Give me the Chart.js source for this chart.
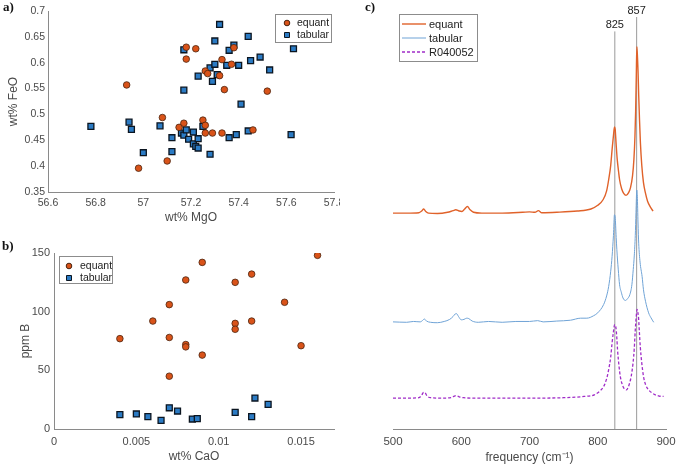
<!DOCTYPE html>
<html>
<head>
<meta charset="utf-8">
<script src="https://cdn.jsdelivr.net/npm/chart.js@4.4.1/dist/chart.umd.min.js"></script>
<style>
  html, body { margin: 0; padding: 0; background: #fff; }
  #wrap { position: relative; width: 676px; height: 465px; overflow: hidden; }
  canvas { position: absolute; }
</style>
</head>
<body>
<div id="wrap">
  <canvas id="chartA" width="340" height="232" style="left:0;top:0"></canvas>
  <canvas id="chartB" width="340" height="233" style="left:0;top:232px"></canvas>
  <canvas id="chartC" width="336" height="465" style="left:340px;top:0"></canvas>
</div>
<script>
// ---- panel a) FeO vs MgO ----
const mgoEquant = [56.93, 56.98, 57.08, 57.10, 57.15, 57.17, 57.18, 57.18, 57.22, 57.25, 57.26, 57.26,
  57.26, 57.27, 57.29, 57.32, 57.33, 57.33, 57.34, 57.37, 57.38, 57.46, 57.52];
const feoEquant = [0.557, 0.396, 0.494, 0.410, 0.475, 0.483, 0.630, 0.607, 0.627, 0.489, 0.479, 0.464,
  0.584, 0.579, 0.464, 0.575, 0.606, 0.464, 0.548, 0.597, 0.629, 0.470, 0.545];
const mgoTabular = [56.78, 56.94, 56.95, 57.00, 57.07, 57.12, 57.12, 57.16, 57.17, 57.17, 57.17, 57.18,
  57.19, 57.21, 57.21, 57.22, 57.23, 57.23, 57.23, 57.25, 57.28, 57.28, 57.29, 57.30, 57.30, 57.31,
  57.32, 57.35, 57.36, 57.36, 57.38, 57.39, 57.40, 57.41, 57.44, 57.44, 57.45, 57.49, 57.53, 57.62, 57.63];
const feoTabular = [0.477, 0.485, 0.471, 0.426, 0.478, 0.455, 0.428, 0.464, 0.460, 0.625, 0.547, 0.470,
  0.452, 0.466, 0.443, 0.438, 0.435, 0.453, 0.574, 0.477, 0.423, 0.590, 0.564, 0.597, 0.642, 0.577,
  0.674, 0.595, 0.455, 0.624, 0.634, 0.461, 0.595, 0.520, 0.468, 0.651, 0.604, 0.611, 0.586, 0.461, 0.627];
const aXTicks = [56.6, 56.8, 57, 57.2, 57.4, 57.6, 57.8];
const aXLabels = ['56.6', '56.8', '57', '57.2', '57.4', '57.6', '57.8'];
const aYTicks = [0.35, 0.4, 0.45, 0.5, 0.55, 0.6, 0.65, 0.7];
const aYLabels = ['0.35', '0.4', '0.45', '0.5', '0.55', '0.6', '0.65', '0.7'];

// ---- panel b) B vs CaO ----
const caoEquant = [0.004, 0.006, 0.007, 0.007, 0.007, 0.008, 0.008, 0.008, 0.009, 0.009, 0.011, 0.011,
  0.011, 0.012, 0.012, 0.014, 0.015, 0.016];
const bEquant = [77, 92, 106, 78, 45, 127, 72, 70, 142, 63, 125, 90, 85, 132, 92, 108, 71, 148];
const caoTabular = [0.004, 0.005, 0.0057, 0.0065, 0.007, 0.0075, 0.0084, 0.0087, 0.011, 0.012, 0.0122, 0.013];
const bTabular = [12.2, 12.8, 10.5, 7.4, 18.1, 15.3, 8.5, 8.8, 14.2, 10.5, 26.4, 21];
const bXTicks = [0, 0.005, 0.01, 0.015];
const bXLabels = ['0', '0.005', '0.01', '0.015'];
const bYTicks = [0, 50, 100, 150];
const bYLabels = ['0', '50', '100', '150'];

// ---- panel c) Raman spectra (intensity in arbitrary, offset units) ----
const equantFreq = [500, 520, 538, 542, 545, 548, 552, 565, 580, 588, 592, 597, 601, 605, 609, 613, 618,
  630, 660, 690, 700, 708, 713, 718, 740, 770, 790, 800, 808, 813, 816, 819, 821, 823, 824.5, 825.5,
  827, 828.5, 830.5, 832, 835, 838, 841.5, 845, 848, 851, 853, 854.5, 855.5, 856.5, 857.3, 858, 859,
  860, 861.2, 862.5, 864.5, 867, 870, 873, 877, 881];
const equantInt = [52.4, 52.4, 52.5, 52.9, 53.4, 52.8, 52.4, 52.3, 52.6, 53.0, 53.2, 52.9, 52.8, 53.4,
  54.0, 53.2, 52.6, 52.4, 52.4, 52.6, 52.7, 52.6, 53.0, 52.5, 52.6, 52.9, 53.4, 54.3, 55.7, 57.8, 60.5,
  64.0, 67.8, 71.2, 73.3, 72.8, 69.0, 65.5, 62.5, 60.5, 58.3, 57.2, 56.7, 57.3, 58.6, 61.5, 65.5, 71.0,
  77.0, 86.0, 92.8, 91.0, 87.0, 81.0, 75.0, 69.5, 64.0, 59.8, 57.2, 55.3, 53.9, 52.9];
const tabularFreq = [500, 520, 530, 540, 543, 546, 549, 555, 565, 575, 583, 588, 591, 593, 596, 600, 604,
  608, 611, 616, 625, 640, 660, 680, 700, 712, 720, 740, 760, 775, 784, 794, 800, 808.6, 813, 816, 819,
  821, 823, 824.5, 825.5, 827, 828, 830, 832, 834.5, 837, 840.5, 844, 847, 850, 852, 853.5, 855, 856,
  857.2, 858, 859, 860, 862, 865, 867, 870, 874.5, 878, 882];
const tabularInt = [26.0, 25.9, 26.1, 26.0, 26.3, 26.7, 26.2, 25.9, 25.8, 26.1, 26.6, 27.3, 27.9, 28.0,
  27.3, 26.5, 26.6, 26.9, 26.8, 26.2, 25.9, 26.1, 25.9, 26.1, 26.1, 26.3, 26.0, 26.2, 26.4, 26.9, 26.9,
  27.5, 28.2, 30.2, 32.3, 34.6, 38.3, 41.9, 47.0, 52.0, 51.5, 46.5, 43.5, 38.8, 35.0, 33.2, 31.8, 31.2,
  31.7, 32.6, 35.0, 38.7, 42.0, 47.0, 52.5, 58.0, 56.5, 50.0, 45.1, 40.5, 37.0, 33.8, 31.0, 28.2, 27.0, 25.9];
const refFreq = [500, 520, 538, 542, 545, 547, 550, 555, 570, 585, 590, 593, 597, 603, 620, 650, 700, 750,
  780, 795, 803, 808.6, 813, 816, 819, 821, 823, 824.7, 826.7, 828, 829, 831, 833, 835.5, 838, 842, 845,
  846.8, 849, 851.7, 853.5, 855, 856.5, 857.5, 858.5, 859.8, 861, 862.3, 864.5, 867, 870, 874.5, 880,
  884.3, 890, 896.5];
const refInt = [7.5, 7.5, 7.6, 8.2, 8.9, 8.8, 8.0, 7.6, 7.5, 7.6, 8.0, 8.1, 7.8, 7.6, 7.5, 7.5, 7.5, 7.6,
  7.9, 8.3, 9.2, 10.3, 12.2, 14.4, 17.5, 20.9, 23.6, 25.3, 24.5, 22.0, 19.2, 15.5, 12.8, 11.0, 10.0, 9.5,
  10.3, 11.2, 12.8, 16.0, 19.5, 24.1, 27.5, 29.0, 28.5, 26.9, 23.5, 20.0, 16.0, 12.8, 10.8, 9.5, 8.7,
  8.3, 8.0, 7.9];
const peakFreqs = [825, 857];
const peakTops = [96.5, 100];
const cXTicks = [500, 600, 700, 800, 900];

const seriesNames = ['equant', 'tabular', 'R040052'];

const FONT = '"Liberation Sans", Arial, sans-serif';
const AXIS_COLOR = '#8a8a8a';
const TEXT_COLOR = '#4a4a4a';
const ORANGE = '#d95319';
const BLUE = '#2b7bc4';

Chart.defaults.font.family = FONT;
Chart.defaults.color = TEXT_COLOR;
Chart.defaults.animation = false;

function pts(xs, ys) {
  return xs.map((x, i) => ({ x: x, y: ys[i] }));
}

// scale with fixed thickness so the plot areas line up like the original figure
function xAxis(min, max, ticks, labels, title, height, fontSize, tickPad, titlePadBottom) {
  return {
    type: 'linear', min: min, max: max,
    grid: { display: false, drawTicks: false },
    border: { display: true, color: AXIS_COLOR, width: 1 },
    afterBuildTicks: s => { s.ticks = ticks.map(v => ({ value: v })); },
    afterFit: s => { s.height = height; s.paddingLeft = 0; s.paddingRight = 0; },
    ticks: {
      padding: tickPad, maxRotation: 0, autoSkip: false,
      font: { size: fontSize }, color: TEXT_COLOR,
      callback: (v, i) => labels ? labels[i] : String(v)
    },
    title: { display: true, text: title, font: { size: 12 }, color: TEXT_COLOR,
      padding: { top: 0, bottom: titlePadBottom } }
  };
}

function yAxis(min, max, ticks, labels, title, width, fontSize, tickPad, titlePadTop) {
  return {
    type: 'linear', min: min, max: max,
    grid: { display: false, drawTicks: false },
    border: { display: true, color: AXIS_COLOR, width: 1 },
    afterBuildTicks: s => { s.ticks = ticks.map(v => ({ value: v })); },
    afterFit: s => { s.width = width; s.paddingTop = 0; s.paddingBottom = 0; },
    ticks: { padding: tickPad, font: { size: fontSize }, color: TEXT_COLOR,
      callback: (v, i) => labels[i] },
    title: { display: true, text: title, font: { size: 12 }, color: TEXT_COLOR,
      padding: { top: titlePadTop, bottom: 0 } }
  };
}

// panel letter + boxed legend drawn inside the plot
const panelDecor = {
  id: 'panelDecor',
  afterDraw(chart, args, opts) {
    const ctx = chart.ctx;
    ctx.save();
    ctx.font = 'bold 13px "Liberation Serif", serif';
    ctx.fillStyle = '#111';
    ctx.textAlign = 'left';
    ctx.textBaseline = 'middle';
    ctx.fillText(opts.letter, opts.letterX, opts.letterY);

    const b = opts.box;
    ctx.fillStyle = '#fff';
    ctx.fillRect(b.x, b.y, b.w, b.h);
    ctx.strokeStyle = '#8c8c8c';
    ctx.lineWidth = 1;
    ctx.strokeRect(b.x + 0.5, b.y + 0.5, b.w, b.h);

    ctx.font = opts.fontSize + 'px ' + FONT;
    opts.rows.forEach((row, i) => {
      const ds = chart.data.datasets[i];
      const y = b.y + row;
      if (opts.kind === 'line') {
        ctx.strokeStyle = ds.borderColor;
        ctx.lineWidth = ds.borderWidth;
        ctx.setLineDash(ds.borderDash || []);
        ctx.beginPath();
        ctx.moveTo(b.x + opts.markX, y);
        ctx.lineTo(b.x + opts.markX + opts.lineLen, y);
        ctx.stroke();
        ctx.setLineDash([]);
      } else {
        ctx.fillStyle = ds.backgroundColor;
        ctx.strokeStyle = ds.borderColor;
        ctx.lineWidth = 1;
        ctx.beginPath();
        if (ds.pointStyle === 'rect') {
          ctx.rect(b.x + opts.markX - 2.5, y - 2.5, 5, 5);
        } else {
          ctx.arc(b.x + opts.markX, y, 2.8, 0, Math.PI * 2);
        }
        ctx.fill();
        ctx.stroke();
      }
      ctx.fillStyle = '#222';
      ctx.fillText(ds.label, b.x + opts.textX, y + 0.5);
    });
    ctx.restore();
  }
};

// numbers above the two reference lines in panel c
const peakLabels = {
  id: 'peakLabels',
  afterDraw(chart) {
    const ctx = chart.ctx;
    const xs = chart.scales.x, ys = chart.scales.y;
    ctx.save();
    ctx.font = '11px ' + FONT;
    ctx.fillStyle = '#222';
    ctx.textAlign = 'center';
    ctx.textBaseline = 'middle';
    peakFreqs.forEach((f, i) => {
      ctx.fillText(String(f), xs.getPixelForValue(f), ys.getPixelForValue(peakTops[i]) - 6);
    });
    ctx.restore();
  }
};

function scatterSet(label, xs, ys, style, fill, r) {
  return {
    label: label, data: pts(xs, ys), pointStyle: style, pointRadius: r,
    backgroundColor: fill, borderColor: style === 'rect' ? '#0b1520' : '#4a2410',
    borderWidth: style === 'rect' ? 1.3 : 0.8
  };
}

new Chart(document.getElementById('chartA'), {
  type: 'scatter',
  data: {
    datasets: [
      scatterSet(seriesNames[0], mgoEquant, feoEquant, 'circle', ORANGE, 3.3),
      scatterSet(seriesNames[1], mgoTabular, feoTabular, 'rect', BLUE, 4.2)
    ]
  },
  options: {
    responsive: false,
    devicePixelRatio: 1,
    layout: { padding: { left: 0, top: 11, right: 6, bottom: 0 } },
    scales: {
      x: xAxis(56.6, 57.8, aXTicks, aXLabels, 'wt% MgO', 40, 10.5, 5, 7),
      y: yAxis(0.35, 0.7, aYTicks, aYLabels, 'wt% FeO', 48, 10.5, 3, 6)
    },
    plugins: {
      legend: { display: false },
      tooltip: { enabled: false },
      panelDecor: { letter: 'a)', letterX: 3, letterY: 8,
        box: { x: 275, y: 14, w: 56, h: 28 }, rows: [9, 21], markX: 12, textX: 22, fontSize: 10.5 }
    }
  },
  plugins: [panelDecor]
});

new Chart(document.getElementById('chartB'), {
  type: 'scatter',
  data: {
    datasets: [
      scatterSet(seriesNames[0], caoEquant, bEquant, 'circle', ORANGE, 3.3),
      scatterSet(seriesNames[1], caoTabular, bTabular, 'rect', BLUE, 4.2)
    ]
  },
  options: {
    responsive: false,
    devicePixelRatio: 1,
    layout: { padding: { left: 0, top: 21, right: 6, bottom: 0 } },
    scales: {
      x: xAxis(0, 0.017, bXTicks, bXLabels, 'wt% CaO', 36, 11, 6, 1),
      y: yAxis(0, 150, bYTicks, bYLabels, 'ppm B', 54, 11, 4, 18)
    },
    plugins: {
      legend: { display: false },
      tooltip: { enabled: false },
      panelDecor: { letter: 'b)', letterX: 2, letterY: 15,
        box: { x: 59, y: 24, w: 53, h: 27 }, rows: [10, 22], markX: 10, textX: 21, fontSize: 10.5 }
    }
  },
  plugins: [panelDecor]
});

function specSet(label, xs, ys, color, width, dash) {
  return {
    label: label, data: pts(xs, ys), borderColor: color, borderWidth: width,
    borderDash: dash, pointRadius: 0, fill: false, cubicInterpolationMode: 'monotone'
  };
}

const peakLineSets = peakFreqs.map((f, i) => ({
  label: 'peak ' + f,
  data: [{ x: f, y: 0 }, { x: f, y: peakTops[i] }],
  borderColor: '#9a9a9a', borderWidth: 1, pointRadius: 0, order: 10
}));

new Chart(document.getElementById('chartC'), {
  type: 'line',
  data: {
    datasets: [
      specSet(seriesNames[0], equantFreq, equantInt, '#e0622a', 1.4, []),
      specSet(seriesNames[1], tabularFreq, tabularInt, '#6fa3d6', 1, []),
      specSet(seriesNames[2], refFreq, refInt, '#a02cc8', 1.3, [3, 2])
    ].concat(peakLineSets)
  },
  options: {
    responsive: false,
    devicePixelRatio: 1,
    layout: { padding: { left: 53, top: 17, right: 10, bottom: 0 } },
    scales: {
      x: xAxis(500, 900, cXTicks, null, 'frequency (cm⁻¹)', 36, 11.5, 6, 0),
      y: { type: 'linear', min: 0, max: 100, display: false }
    },
    plugins: {
      legend: { display: false },
      tooltip: { enabled: false },
      panelDecor: { letter: 'c)', letterX: 25, letterY: 8, kind: 'line',
        box: { x: 59, y: 14, w: 78, h: 47 }, rows: [10, 24, 38], markX: 3, lineLen: 24,
        textX: 30, fontSize: 11 }
    }
  },
  plugins: [panelDecor, peakLabels]
});
</script>
</body>
</html>
